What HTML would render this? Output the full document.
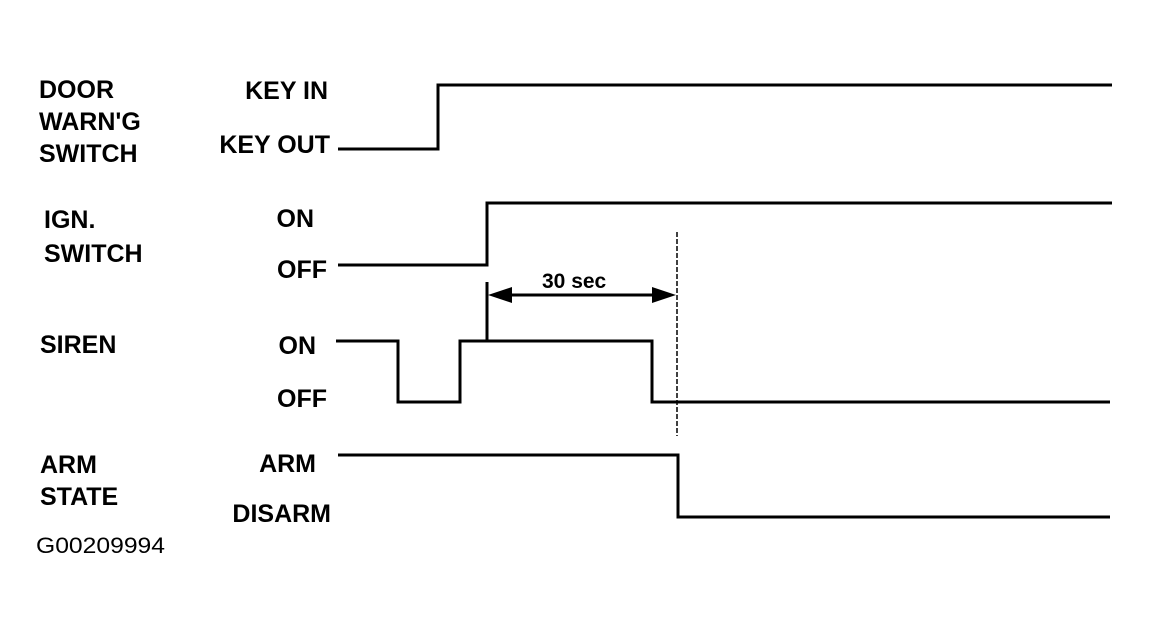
<!DOCTYPE html>
<html><head><style>body{margin:0;background:#fff}svg{display:block}</style></head>
<body>
<svg width="1152" height="626" viewBox="0 0 1152 626" xmlns="http://www.w3.org/2000/svg">
<rect width="1152" height="626" fill="#fff"/>
<g font-family="Liberation Sans, Arial, sans-serif" font-weight="bold" font-size="25" fill="#000">
<text x="39" y="98">DOOR</text>
<text x="39" y="130">WARN'G</text>
<text x="39" y="162">SWITCH</text>
<text x="44" y="228">IGN.</text>
<text x="44" y="262">SWITCH</text>
<text x="40" y="353">SIREN</text>
<text x="40" y="473">ARM</text>
<text x="40" y="505">STATE</text>
<g text-anchor="end">
<text x="328" y="99">KEY IN</text>
<text x="330" y="153">KEY OUT</text>
<text x="314" y="227">ON</text>
<text x="327" y="278">OFF</text>
<text x="316" y="354">ON</text>
<text x="327" y="407">OFF</text>
<text x="316" y="472">ARM</text>
<text x="331" y="522">DISARM</text>
</g>
<text x="542" y="288" font-size="21">30 sec</text>
<text x="36" y="553" font-weight="normal" font-size="22" textLength="129" lengthAdjust="spacingAndGlyphs">G00209994</text>
</g>
<g stroke="#000" stroke-width="3" fill="none">
<polyline points="338,149 438,149 438,85 1112,85"/>
<polyline points="338,265 487,265 487,203 1112,203"/>
<polyline points="336,341 398,341 398,402 460,402 460,341 652,341 652,402 1110,402"/>
<polyline points="338,455 678,455 678,517 1110,517"/>
<line x1="487" y1="282" x2="487" y2="342"/>
<line x1="500" y1="295" x2="664" y2="295"/>
</g>
<line x1="677" y1="232" x2="677" y2="436" stroke="#000" stroke-width="1.5" stroke-dasharray="5,2"/>
<polygon points="488,295 512,287 512,303" fill="#000"/>
<polygon points="676,295 652,287 652,303" fill="#000"/>
</svg>
</body></html>
